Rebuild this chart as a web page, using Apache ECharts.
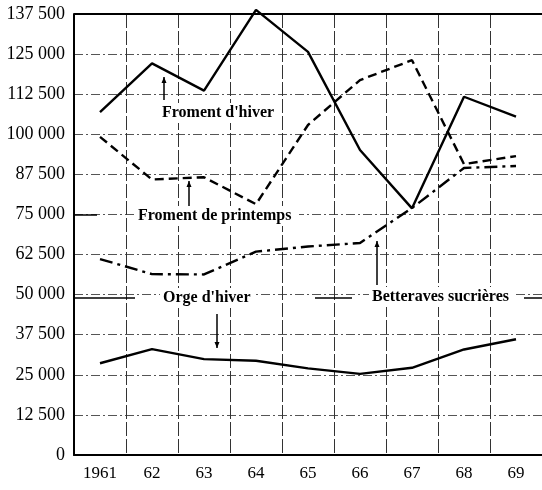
<!DOCTYPE html>
<html>
<head>
<meta charset="utf-8">
<script src="https://cdn.jsdelivr.net/npm/echarts@6/dist/echarts.min.js"></script>
<style>
html,body{margin:0;padding:0;background:#fff}
#main{width:542px;height:490px}
</style>
</head>
<body>
<div id="main"></div>
<script>
// categories and tick labels
var years = ['1961', '62', '63', '64', '65', '66', '67', '68', '69'];
var yTicks = ['0', '12 500', '25 000', '37 500', '50 000', '62 500', '75 000',
    '87 500', '100 000', '112 500', '125 000', '137 500'];

// values
var fromentHiver = [106900, 122100, 113600, 138800, 125700, 95100, 76900, 111700, 105500];
var fromentPrintemps = [99200, 85900, 86600, 78200, 102900, 116900, 123100, 90700, 93200];
var betteraves = [61100, 56400, 56300, 63400, 65000, 66100, 77000, 89500, 90100];
var orgeHiver = [28600, 33000, 29900, 29400, 27000, 25300, 27200, 32900, 36100];

var serif = '"Liberation Serif", "DejaVu Serif", serif';

function lineSeries(name, data, dash) {
    return {
        name: name,
        type: 'line',
        data: data,
        symbol: 'none',
        silent: true,
        clip: false,
        lineStyle: {color: '#000', width: 2.4, type: dash}
    };
}

// petite flèche verticale (annotation)
function arrow(x, y1, y2) {
    var dir = y2 < y1 ? 1 : -1;
    return [
        {type: 'line', z: 10, shape: {x1: x, y1: y1, x2: x, y2: y2}, style: {stroke: '#000', lineWidth: 1.5}},
        {type: 'polygon', z: 10, shape: {points: [[x, y2], [x - 2.5, y2 + dir * 6], [x + 2.5, y2 + dir * 6]]}, style: {fill: '#000'}}
    ];
}

// texte en gras sur fond blanc
function label(text, x, y, w) {
    return [
        {type: 'rect', z: 10, shape: {x: x - 3, y: y - 10, width: w + 6, height: 20}, style: {fill: '#fff'}},
        {type: 'text', z: 11, x: x, y: y,
            style: {text: text, fill: '#000', font: 'bold 16px ' + serif, textVerticalAlign: 'middle'}}
    ];
}

function dash(x1, x2, y) {
    return {type: 'line', z: 10, shape: {x1: x1, y1: y, x2: x2, y2: y}, style: {stroke: '#000', lineWidth: 1.5}};
}

var myChart = echarts.init(document.getElementById('main'));

var graphics = [].concat(
    label("Froment d'hiver", 162, 113, 114),
    label('Froment de printemps', 138, 216, 158),
    label("Orge d'hiver", 163, 298, 90),
    label('Betteraves sucrières', 372, 297, 140),
    [dash(74, 135, 298), dash(315, 352, 298), dash(524, 542, 298), dash(74, 97, 215)],
    arrow(164, 100, 77),
    arrow(189, 206, 181),
    arrow(217, 314, 348),
    arrow(377, 285, 241)
);

var option = {
    animation: false,
    backgroundColor: '#fff',
    grid: {left: 74, right: 0, top: 14, bottom: 35},
    xAxis: {
        type: 'category',
        data: years,
        boundaryGap: true,
        axisLine: {lineStyle: {color: '#000', width: 2}},
        axisTick: {show: false},
        axisLabel: {color: '#000', fontFamily: serif, fontSize: 17, margin: 10},
        splitLine: {show: true, lineStyle: {color: '#333', width: 1, type: [14, 3]}}
    },
    yAxis: {
        type: 'value',
        min: 0,
        max: 137500,
        interval: 12500,
        axisLine: {show: true, lineStyle: {color: '#000', width: 2}},
        axisTick: {show: false},
        axisLabel: {
            color: '#000', fontFamily: serif, fontSize: 18, margin: 9,
            formatter: function (v) { return yTicks[Math.round(v / 12500)]; }
        },
        splitLine: {lineStyle: {color: '#555', width: 1, type: [9, 3, 2, 3]}}
    },
    series: [
        lineSeries("Froment d'hiver", fromentHiver, 'solid'),
        lineSeries('Froment de printemps', fromentPrintemps, [9, 5]),
        lineSeries('Betteraves sucrières', betteraves, [13, 5, 3, 5]),
        lineSeries("Orge d'hiver", orgeHiver, 'solid')
    ],
    graphic: graphics
};
// ligne du haut (137 500) en trait plein
option.series[0].markLine = {
    silent: true,
    symbol: 'none',
    label: {show: false},
    lineStyle: {color: '#000', width: 2, type: 'solid'},
    data: [{yAxis: 137500}]
};

myChart.setOption(option);
</script>
</body>
</html>
